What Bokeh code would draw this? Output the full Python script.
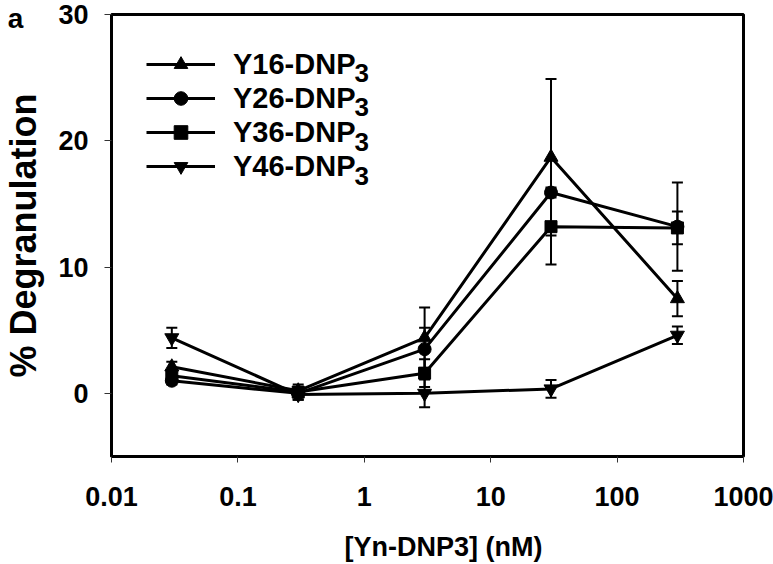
from bokeh.plotting import figure
from bokeh.models import (ColumnDataSource, Whisker, TeeHead, FixedTicker, Legend,
                          LegendItem, Label, Range1d)
from bokeh.embed import file_html
from bokeh.resources import INLINE

# ---- data ----
conc = [0.03, 0.3, 3, 30, 300]
y16 = [2.1, 0.2, 4.4, 18.7, 7.5]
y16_err = [0.4, 0.3, 2.4, 6.2, 1.4]
y26 = [1.0, 0.0, 3.5, 15.9, 13.2]
y26_err = [0.3, 0.3, 1.7, 0.4, 3.5]
y36 = [1.4, 0.1, 1.6, 13.2, 13.1]
y36_err = [0.3, 0.6, 1.1, 3.0, 1.3]
y46 = [4.4, -0.1, 0.0, 0.35, 4.6]
y46_err = [0.8, 0.4, 1.1, 0.7, 0.7]

series_names = ["Y16-DNP", "Y26-DNP", "Y36-DNP", "Y46-DNP"]
x_ticks = [0.01, 0.1, 1, 10, 100, 1000]
x_tick_labels = ["0.01", "0.1", "1", "10", "100", "1000"]
y_ticks = [0, 10, 20, 30]

FONT = "Liberation Sans"

p = figure(width=773, height=564, x_axis_type="log",
           x_range=Range1d(0.01, 1000), y_range=Range1d(-5, 30),
           output_backend="svg", toolbar_location=None,
           min_border_left=108, min_border_right=30, min_border_top=14,
           min_border_bottom=108)
p.grid.visible = False
p.outline_line_color = "black"
p.outline_line_width = 3
p.background_fill_color = "white"
p.border_fill_color = "white"

for ax in (p.xaxis[0], p.yaxis[0]):
    ax.axis_line_color = "black"
    ax.axis_line_width = 3
    ax.major_tick_line_color = "#333333"
    ax.major_tick_line_width = 1
    ax.major_tick_in = 0
    ax.minor_tick_line_color = None
    ax.major_label_text_font = FONT
    ax.major_label_text_font_style = "bold"
    ax.major_label_text_font_size = "27px"
    ax.major_label_text_color = "black"

p.xaxis.ticker = FixedTicker(ticks=x_ticks)
p.xaxis.major_label_overrides = {t: l for t, l in zip(x_ticks, x_tick_labels)}
p.xaxis.major_tick_out = 6
p.xaxis.major_label_standoff = 24

p.yaxis.ticker = FixedTicker(ticks=y_ticks)
p.yaxis.major_tick_out = 7
p.yaxis.major_label_standoff = 16
p.yaxis.axis_label = "% Degranulation"
p.yaxis.axis_label_text_font = FONT
p.yaxis.axis_label_text_font_style = "bold"
p.yaxis.axis_label_text_font_size = "36px"
p.yaxis.axis_label_text_color = "black"
p.yaxis.axis_label_standoff = 11

markers = ["triangle", "circle", "square", "inverted_triangle"]
sizes = [14, 13, 12, 14]
ys = [y16, y26, y36, y46]
errs = [y16_err, y26_err, y36_err, y46_err]

items = []
for name, mk, sz, yv, ev in zip(series_names, markers, sizes, ys, errs):
    src = ColumnDataSource(dict(x=conc, y=yv,
                                upper=[a + b for a, b in zip(yv, ev)],
                                lower=[a - b for a, b in zip(yv, ev)]))
    w = Whisker(source=src, base="x", upper="upper", lower="lower",
                line_color="black", line_width=2,
                upper_head=TeeHead(size=11, line_color="black", line_width=2),
                lower_head=TeeHead(size=11, line_color="black", line_width=2))
    p.add_layout(w)
    lr = p.line("x", "y", source=src, line_color="black", line_width=3)
    sr = p.scatter("x", "y", source=src, marker=mk, size=sz,
                   fill_color="black", line_color="black")
    items.append(LegendItem(label=name, renderers=[lr, sr]))

legend = Legend(items=items, location=(35, 273), orientation="vertical",
                glyph_width=69, glyph_height=34, label_height=34,
                label_standoff=18, spacing=0, padding=0, margin=0,
                border_line_color=None, background_fill_alpha=0,
                label_text_font=FONT, label_text_font_style="bold",
                label_text_font_size="29px", label_text_color="black",
                label_text_baseline="middle")
p.add_layout(legend, "center")

# subscript "3" for legend entries
row_y = [63, 97, 132, 166]
for ry in row_y:
    p.add_layout(Label(x=243, y=456 - ry - 9, x_units="screen", y_units="screen",
                       text="3", text_font=FONT, text_font_style="bold",
                       text_font_size="26px", text_align="left",
                       text_baseline="middle", text_color="black"))

# panel letter (hosted in the narrow right panel so it is not clipped)
p.add_layout(Label(x=15 - 743, y=438, x_units="screen", y_units="screen", text="a",
                   text_font=FONT, text_font_style="bold", text_font_size="28px",
                   text_align="center", text_baseline="middle", text_color="black"),
             "right")

# x axis title (below panel)
p.add_layout(Label(x=332, y=-8, x_units="screen", y_units="screen",
                   text="[Yn-DNP3] (nM)", text_font=FONT, text_font_style="bold",
                   text_font_size="27px", text_align="center",
                   text_baseline="middle", text_color="black"),
             "below")

open("out.html", "w").write(file_html(p, INLINE))
